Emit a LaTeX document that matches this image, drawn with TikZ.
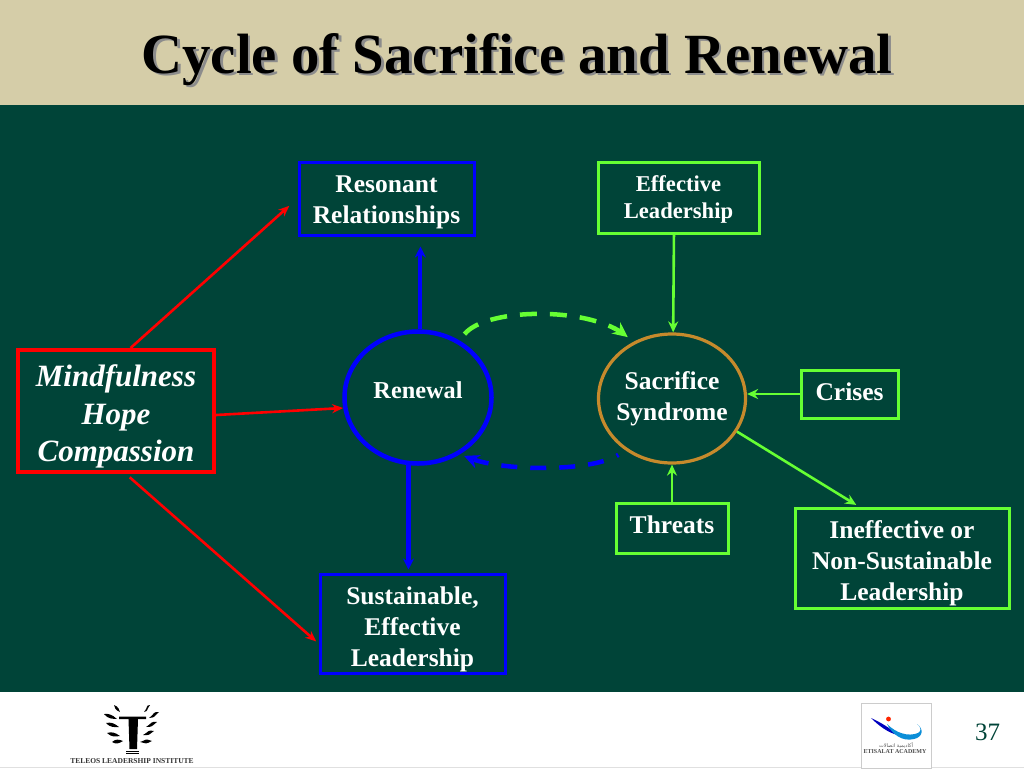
\documentclass[tikz,border=0pt]{standalone}
\usepackage{fontspec}
\setmainfont{Liberation Serif}
\newfontfamily\arabicfont[Script=Arabic]{DejaVu Sans}
\TeXXeTstate=1
\usetikzlibrary{arrows.meta,shapes.geometric,calc,bending}
\definecolor{bgreen}{HTML}{004438}
\definecolor{tan}{HTML}{D5CDA8}
\definecolor{lime}{HTML}{66FF33}
\definecolor{pureblue}{HTML}{0000FF}
\definecolor{purered}{HTML}{FF0000}
\definecolor{ochre}{HTML}{C68A2C}
\tikzset{
  boxbase/.style={draw,rectangle,align=center,inner sep=0pt,text=white,font=\bfseries\fontsize{25.5}{31}\selectfont},
  bluebox/.style={boxbase,draw=pureblue,line width=3pt},
  limebox/.style={boxbase,draw=lime,line width=3pt},
  redbox/.style={boxbase,draw=purered,line width=4pt,font=\bfseries\itshape\fontsize{31}{37.5}\selectfont},
  ring/.style={draw,ellipse,inner sep=0pt,align=center,text=white,font=\bfseries\fontsize{25.5}{31}\selectfont},
  redarrow/.style={draw=purered,line width=2.6pt,-{Stealth[length=11pt,width=9pt]}},
  limearrow/.style={draw=lime,line width=2.6pt,-{Stealth[length=11pt,width=10pt]}},
  bluearrow/.style={draw=pureblue,line width=4.2pt,-{Stealth[length=11pt,width=11pt]}},
  leaf/.style={fill=black,draw=none},
}
\newcommand{\tx}[2]{\makebox[0pt][c]{\raisebox{#1pt}[0pt][0pt]{\begin{tabular}{@{}c@{}}#2\end{tabular}}}}
\newcommand{\leafshape}[4]{\fill[leaf] (#1,#2) .. controls ({(#1+#3)/2-1.5},{(#2+#4)/2-3}) and ({(#1+#3)/2+1.5},{(#2+#4)/2-2}) .. (#3,#4) .. controls ({(#1+#3)/2+1.5},{(#2+#4)/2+2}) and ({(#1+#3)/2-1.5},{(#2+#4)/2+3}) .. cycle;}
\begin{document}
\begin{tikzpicture}[x=1pt,y=-1pt]
\useasboundingbox (0,0) rectangle (1024,768);
\fill[white] (0,0) rectangle (1024,768);
\fill[tan] (0,0) rectangle (1024,105);
\fill[bgreen] (0,105) rectangle (1024,692);
\draw[black!12,line width=1pt] (0,767.5) -- (1024,767.5);

% title
\node[text=black!45,font=\bfseries\fontsize{56.8}{60}\selectfont] at (519.5,62) {Cycle of Sacrifice and Renewal};
\node[text=black,font=\bfseries\fontsize{56.8}{60}\selectfont] (title) at (517,60) {Cycle of Sacrifice and Renewal};

% boxes
\node[bluebox,minimum width=175pt,minimum height=73pt] (res) at (386.5,198.5) {\tx{-10}{Resonant\\Relationships}};
\node[limebox,minimum width=161pt,minimum height=71pt,font=\bfseries\fontsize{22.6}{27}\selectfont] (eff) at (678.5,197.5) {\tx{-7.5}{Effective\\Leadership}};
\node[redbox,minimum width=196pt,minimum height=122pt] (mind) at (116,411) {\tx{-12}{Mindfulness\\Hope\\Compassion}};
\node[limebox,minimum width=97pt,minimum height=48pt] (cri) at (849.5,394) {\tx{-7}{Crises}};
\node[limebox,minimum width=112pt,minimum height=50pt] (thr) at (672,528) {\tx{-6}{Threats}};
\node[limebox,minimum width=214pt,minimum height=100pt] (ine) at (902,558) {\tx{-11.5}{Ineffective or\\Non-Sustainable\\Leadership}};
\node[bluebox,minimum width=185pt,minimum height=99pt] (sus) at (412.5,623.5) {\tx{-12}{Sustainable,\\Effective\\Leadership}};

% rings
\node[ring,draw=pureblue,line width=4.5pt,minimum width=147pt,minimum height=132pt,font=\bfseries\fontsize{24.3}{30}\selectfont] (ren) at (418,397.5) {\tx{-1.5}{Renewal}};
\node[ring,draw=ochre,line width=3.2pt,minimum width=147pt,minimum height=129pt] (sac) at (672,398.5) {\tx{-7}{Sacrifice\\Syndrome}};

% red connectors
\draw[redarrow,shorten >=11pt] (mind.77) -- (res.west);
\draw[redarrow] ($(mind.east)+(0,4)$) -- (ren.188);
\draw[redarrow,shorten <=5pt,shorten >=3pt] (mind.279) -- (sus.192);

% blue connectors
\draw[bluearrow,shorten >=10pt] (ren.88) -- (ren.88 |- res.south);
\draw[bluearrow,shorten >=3pt] (ren.262) -- (ren.262 |- sus.north);

% lime connectors
\draw[limearrow] (eff.263) -- (sac.89);
\draw[limearrow] (cri.west) -- (cri.west -| sac.east);
\draw[limearrow] (thr.north) -- (sac.south);
\draw[limearrow,shorten >=3pt] (sac.-27) -- (ine.130);

% dashed cycle arrows
\draw[lime,line width=4.5pt,dash pattern=on 17pt off 13pt,shorten <=8pt,shorten >=7pt,-{Stealth[length=15pt,width=14pt,flex=0.6]}]
  (ren.54) .. controls (488,305) and (604,306) .. (sac.125);
\draw[pureblue,line width=4.5pt,dash pattern=on 2pt off 14pt on 16pt off 13pt on 16pt off 13pt on 16pt off 13pt on 16pt off 13pt on 30pt off 10pt,shorten >=4pt,-{Stealth[length=15pt,width=14pt,flex=0.6]}]
  ($(sac.-134)+(-5,6)$) .. controls (590,473) and (490,472) .. (ren.-53);

% Teleos logo
\node[inner sep=0pt,font=\bfseries\fontsize{7.5}{8}\selectfont,text=black!80] (tel) at (132,761) {TELEOS LEADERSHIP INSTITUTE};
\fill[black] (119,716.5) -- (146,716.5) -- (146,719) -- (138,719) -- (137,749) -- (129.5,749) -- (128.5,719) -- (119,719) -- cycle;
\fill[black] (125.5,751) rectangle (138.5,752.2);
\fill[black] (125.5,753) rectangle (138.5,753.8);
\leafshape{114}{705}{120}{712}
\leafshape{104}{714}{117}{719}
\leafshape{106}{723}{119}{727}
\leafshape{107}{733}{120}{736}
\leafshape{112}{742}{123}{741}
\leafshape{150}{705}{144}{712}
\leafshape{159}{712}{149}{718}
\leafshape{157}{722}{146}{727}
\leafshape{154}{731}{143}{735}
\leafshape{152}{741}{140}{742}

% Etisalat logo
\draw[black!20,fill=white,line width=.8pt] (861.5,703) rectangle (931,768);
\fill[blue!75!black] (871,718) .. controls (880,722) and (890,728) .. (898,735) .. controls (888,733) and (878,725) .. cycle;
\fill[cyan!75!blue] (887,724) .. controls (896,733) and (908,737) .. (918,733) .. controls (922,731) and (921,727) .. (917,724) .. controls (924,729) and (923,737) .. (914,739) .. controls (902,742) and (892,734) .. cycle;
\fill[red!70!orange] (888.5,719) circle (2.4);
\node[inner sep=0pt,font=\arabicfont\fontsize{5}{6}\selectfont,text=black!65] (etar) at (896,745.5) {\beginR أكاديمية اتصالات\endR};
\node[inner sep=0pt,font=\bfseries\fontsize{6}{6}\selectfont,text=black!70] (eten) at (895,751.5) {ETISALAT ACADEMY};

% page number
\node[inner sep=0pt,text=bgreen,font=\fontsize{25}{30}\selectfont] (num) at (987.5,732) {37};
\end{tikzpicture}
\end{document}
